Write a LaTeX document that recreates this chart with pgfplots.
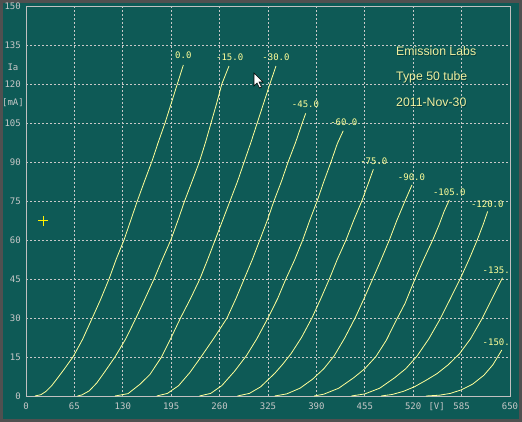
\documentclass[border=0pt]{standalone}
\usepackage{fontspec}
\setmainfont{Liberation Sans}
\newfontfamily\mono{DejaVu Sans Mono}
\usepackage{pgfplots}
\pgfplotsset{compat=1.18}

\definecolor{frame}{HTML}{505050}
\definecolor{screen}{HTML}{0E5A56}
\definecolor{axc}{HTML}{C0C0C0}
\definecolor{gridc}{HTML}{C8C8C8}
\definecolor{tickc}{HTML}{C8C8C8}
\definecolor{curve}{HTML}{FFFF99}
\definecolor{ttl}{HTML}{F0F0A0}
\definecolor{shadow}{HTML}{083C3A}

\tikzset{tube/.style={color=curve, line width=0.8pt, mark=none, solid}}

\begin{document}
\begin{tikzpicture}
% screen frame, 1pt = 1px
\fill[frame] (-26pt,-26pt) rectangle (496pt,396pt);
\fill[screen] (-23pt,-23pt) rectangle (493pt,393pt);
\begin{axis}[
  scale only axis,
  width=484pt,
  height=390pt,
  xmin=0, xmax=650,
  ymin=0, ymax=150,
  xtick={0,65,...,650},
  ytick={0,15,...,150},
  grid=major,
  major grid style={dash pattern=on 2pt off 2pt, color=gridc, line width=0.8pt},
  axis line style={color=axc, line width=0.9pt},
  major tick length=0pt,
  tick label style={font=\mono\fontsize{9}{10}\selectfont, color=tickc},
  /pgf/number format/assume math mode=true,
  yticklabel style={anchor=east, inner sep=0pt, xshift=-5pt},
  xticklabel style={anchor=north, inner sep=0pt, yshift=-6.5pt},
  clip=false,
]
% Vg = 0.0
\addplot[tube] coordinates {(12,0) (20,0.5) (27,1.8) (34,3.8) (40,6) (50,9.8) (63.5,15.2) (76,21.8) (89,30) (100,37) (111.5,45) (121,52.5) (131.6,60) (140,67) (149.5,75) (159,82.5) (168.8,90) (177.5,97.5) (186.7,105) (195,112.5) (203.2,120) (211.3,127.3)};
% -15
\addplot[tube] coordinates {(69,0) (75,0.4) (85,2) (95,5) (105,9) (119.5,15) (134,22) (147.7,30) (160,37.5) (172,45) (183,52.5) (194.5,60) (204,67.5) (213,75) (223,82.5) (232.8,90) (241,97.5) (248.5,105) (256,112.5) (263,120) (272.6,126.9)};
% -30
\addplot[tube] coordinates {(119.5,0) (137,0.9) (153,4.5) (166.5,8.3) (182,15) (195,22.5) (207.5,30) (221,37.5) (233.5,45) (244,52.5) (254,60) (264,67.5) (274,75) (284,82.5) (293,90) (302,97.5) (310.5,105) (319,112.5) (327.5,120) (335.7,126.9)};
% -45
\addplot[tube] coordinates {(175.5,0) (190,1) (205,4) (220,9) (235,15) (253,22.5) (270,30) (282,37.5) (293,45) (304,52.5) (314,60) (324,67.5) (333,75) (343,82.5) (352,90) (362,97.5) (371,105) (375.6,108.7)};
% -60
\addplot[tube] coordinates {(233,0) (248,1) (263,4) (280,9.5) (296,15.5) (310,22) (325,30) (338,37.5) (349,45) (361,52.5) (371.6,60) (381,67.5) (391,75) (400,82.5) (409.6,90) (418,97) (426,102)};
% -75
\addplot[tube] coordinates {(284,0) (300,1) (315,3.5) (334,8.7) (345,12.3) (356,16.3) (370,22.5) (384,30) (396,37.5) (407.4,45) (418,52.5) (429.8,60) (440,67.5) (451,75) (460,82) (466.5,87.2)};
% -90
\addplot[tube] coordinates {(334,0) (350,0.8) (368,3) (385,6.5) (400,10.5) (414,15.5) (428,22.3) (442,30) (454,37.5) (465.6,45) (477,52.5) (488,60) (498,67.5) (509,75) (518.4,81.2)};
% -105
\addplot[tube] coordinates {(387,0) (400,0.7) (420,3) (440,7) (455,10.5) (470,15.2) (484,21.5) (497,29) (509,35.6) (522.4,45) (534,52.5) (546.2,60) (555,66) (561.8,71.2) (568.5,75.4)};
% -120
\addplot[tube] coordinates {(437,0) (455,0.8) (475,3) (495,7) (510,10.5) (525,15.3) (541,22) (556,29.5) (570,37.5) (583,45) (595,52.5) (606,60) (614,66) (620,71)};
% -135
\addplot[tube] coordinates {(477,0) (492,0.6) (507,1.8) (522,3.6) (537,6) (552,8.6) (567,12) (582,16.2) (597,22) (612,29.5) (626,37.5) (640,45.5)};
% -150
\addplot[tube] coordinates {(537,0) (555,0.3) (570,1) (585,2.4) (600,4.6) (615,8) (627,12) (639,17.7)};
% cursor cross
\addplot[color=yellow, line width=0.8pt, only marks, mark=+, mark size=5pt, mark options={solid}] coordinates {(23.3,67.4)};

% curve labels
\begin{scope}[every node/.style={font=\mono\fontsize{9}{10}\selectfont, text=curve, inner sep=0pt}]
\node at (axis cs:211.3,131) {0.0};
\node at (axis cs:273.5,130.2) {-15.0};
\node at (axis cs:335.7,130.2) {-30.0};
\node at (axis cs:375.4,112.3) {-45.0};
\node at (axis cs:426.8,105.4) {-60.0};
\node at (axis cs:467.1,90.4) {-75.0};
\node at (axis cs:517.7,84.2) {-90.0};
\node at (axis cs:568.5,78.5) {-105.0};
\node at (axis cs:619.5,73.8) {-120.0};
\node[anchor=east] at (axis cs:650,48.5) {-135.};
\node[anchor=east] at (axis cs:650,20.8) {-150.};
\end{scope}

% axis unit labels
\begin{scope}[every node/.style={font=\mono\fontsize{9}{10}\selectfont, text=tickc, inner sep=0pt}]
\node at (axis cs:-17.5,126.5) {Ia};
\node at (axis cs:-17.5,112.7) {[mA]};
\node[anchor=north] at (axis cs:551.5,0) [yshift=-6.5pt] {[V]};
\end{scope}

% title block
\begin{scope}[every node/.style={font=\fontsize{12.3}{14}\selectfont, inner sep=0pt, anchor=base west}]
\node[text=shadow] at (axis cs:497.9,130.4) {Emission Labs};
\node[text=ttl] at (axis cs:496.9,130.8) {Emission Labs};
\node[text=shadow] at (axis cs:497.9,120.8) {Type 50 tube};
\node[text=ttl] at (axis cs:496.9,121.2) {Type 50 tube};
\node[text=shadow] at (axis cs:497.9,111.1) {2011-Nov-30};
\node[text=ttl] at (axis cs:496.9,111.5) {2011-Nov-30};
\end{scope}
\end{axis}
% mouse pointer left on the screen
\draw[black, fill=white, line width=0.6pt, line join=miter, shift={(228pt,323pt)}]
  (0,0) -- (0,-13pt) -- (3pt,-10pt) -- (5.5pt,-15pt) -- (7.5pt,-14pt) -- (5pt,-9pt) -- (9pt,-9pt) -- cycle;
\end{tikzpicture}
\end{document}
